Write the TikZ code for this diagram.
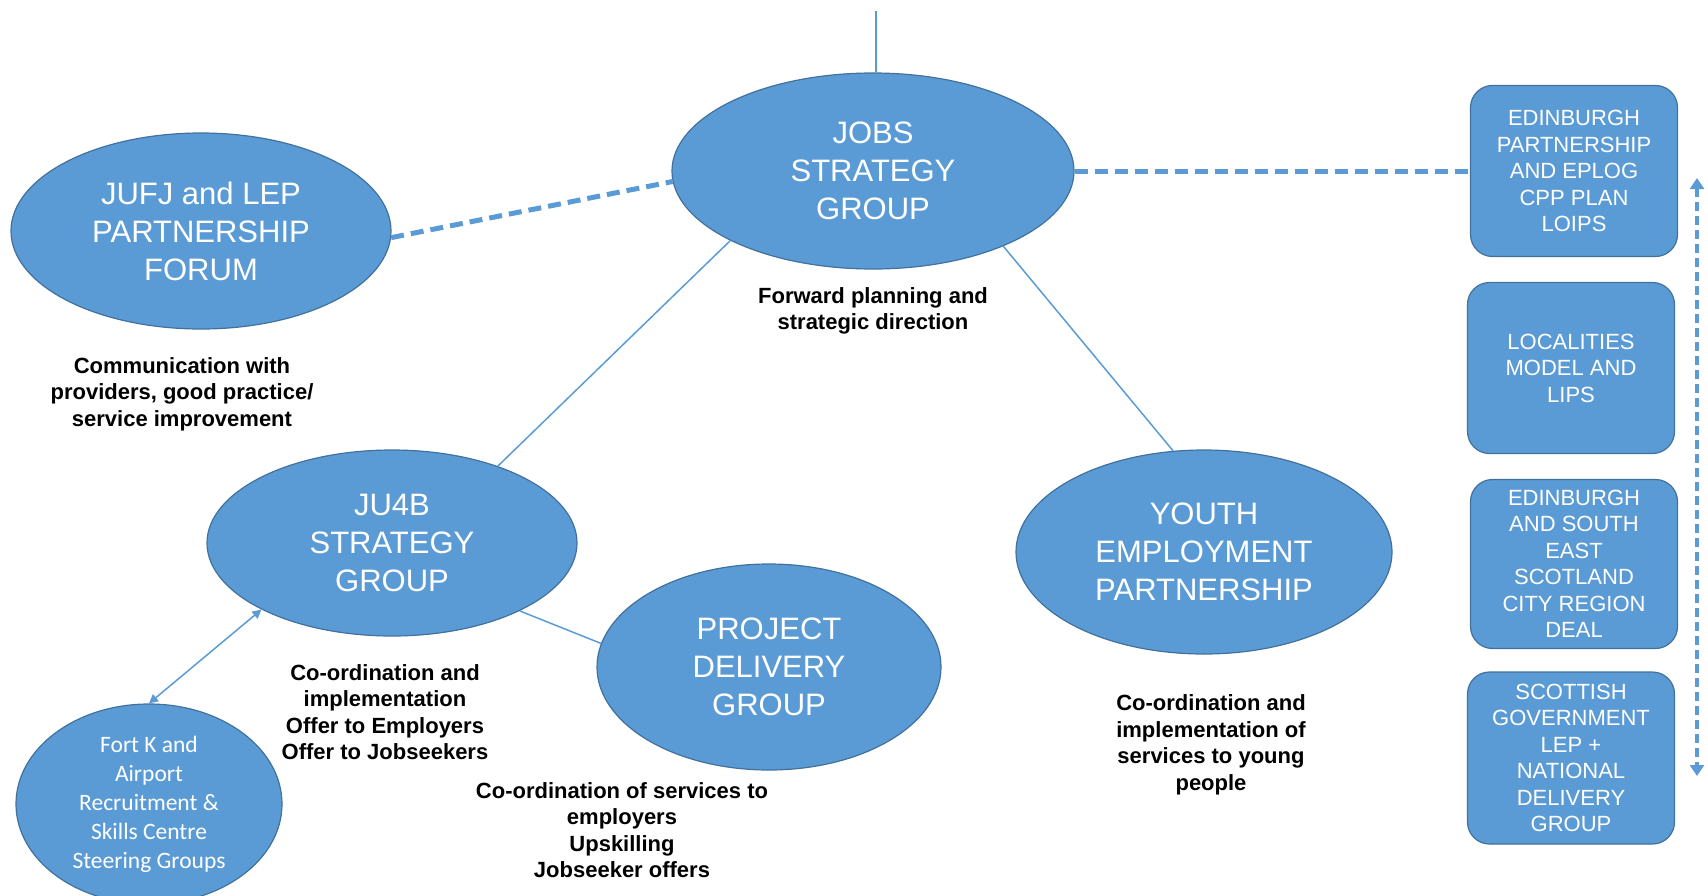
\documentclass[tikz,border=0pt]{standalone}
\usepackage{fontspec}
\setmainfont{Liberation Sans}
\newfontfamily\calfont{Carlito}
\usetikzlibrary{shapes.geometric,arrows.meta}
\definecolor{nodeblue}{HTML}{5B9BD5}
\definecolor{edgeblue}{HTML}{41719C}
\tikzset{
  group/.style={draw=edgeblue, line width=1.2pt, fill=nodeblue, ellipse, text=white, align=center, inner sep=0pt, font=\fontsize{31}{38}\selectfont},
  panel/.style={draw=edgeblue, line width=1.2pt, fill=nodeblue, rounded corners=22pt, text=white, align=center, inner sep=0pt, minimum width=207pt, minimum height=171pt, font=\fontsize{22}{26.5}\selectfont},
  note/.style={align=center, inner sep=0pt, font=\bfseries\fontsize{22}{26.5}\selectfont},
  link/.style={draw=nodeblue, line width=1.5pt},
  dashlink/.style={draw=nodeblue, line width=5pt, dash pattern=on 13pt off 7pt}
}

\begin{document}
\begin{tikzpicture}[x=1pt, y=-1pt]
  \useasboundingbox (0,0) rectangle (1708,895);
  % Groups (ellipses)
  \node[group, minimum width=402pt, minimum height=196pt] (jsg) at (873,171) {JOBS\\STRATEGY\\GROUP};
  \node[group, minimum width=380pt, minimum height=196pt] (jufj) at (201,231) {JUFJ and LEP\\PARTNERSHIP\\FORUM};
  \node[group, minimum width=370pt, minimum height=186pt] (ju4b) at (392,543) {JU4B\\STRATEGY\\GROUP};
  \node[group, minimum width=344pt, minimum height=206pt] (pdg) at (769,667) {PROJECT\\DELIVERY\\GROUP};
  \node[group, minimum width=376pt, minimum height=204pt] (yep) at (1204,552) {YOUTH\\EMPLOYMENT\\PARTNERSHIP};
  \node[group, minimum width=266pt, minimum height=200pt, font=\calfont\fontsize{23.5}{29}\selectfont] (fortk) at (149,804) {Fort K and\\Airport\\Recruitment \&\\Skills Centre\\Steering Groups};
  % Partner panels on the right
  \node[panel] (ep) at (1574,171) {EDINBURGH\\PARTNERSHIP\\AND EPLOG\\CPP PLAN\\LOIPS};
  \node[panel] (loc) at (1571,368) {LOCALITIES\\MODEL AND\\LIPS};
  \node[panel, minimum height=169pt] (crd) at (1574,564) {EDINBURGH\\AND SOUTH\\EAST\\SCOTLAND\\CITY REGION\\DEAL};
  \node[panel, minimum height=172pt] (sg) at (1571,758) {SCOTTISH\\GOVERNMENT\\LEP +\\NATIONAL\\DELIVERY\\GROUP};
  % Notes
  \node[note] (fwd) at (873,311) {Forward planning and\\strategic direction};
  \node[note] (comm) at (182,394) {Communication with\\providers, good practice/\\service improvement};
  \node[note] (impl) at (385,712) {Co-ordination and\\implementation\\Offer to Employers\\Offer to Jobseekers};
  \node[note] (serv) at (622,830) {Co-ordination of services to\\employers\\Upskilling\\Jobseeker offers};
  \node[note] (young) at (1211,745) {Co-ordination and\\implementation of\\services to young\\people};
  % Connectors
  \coordinate (top) at (876,11);
  \coordinate (arrtop) at (1697,178);
  \coordinate (arrbot) at (1697,776);
  \draw[link] (jsg.north -| top) -- (top);
  \foreach \a/\b in {jsg.206/ju4b.36, jsg.330/yep.107, ju4b.332/pdg.172}{
    \draw[link] (\a) -- (\b);
  }
  \draw[link, {Triangle[width=9pt,length=9pt]}-{Triangle[width=9pt,length=9pt]}] (fortk.90) -- (ju4b.207);
  \draw[dashlink] (jufj.358) -- (jsg.183);
  \draw[dashlink] (jsg.east) -- (ep.west);
  \draw[draw=nodeblue, line width=4pt, dash pattern=on 9pt off 5pt, {Triangle[width=14pt,length=11pt]}-{Triangle[width=14pt,length=11pt]}] (arrtop) -- (arrbot);
\end{tikzpicture}
\end{document}
